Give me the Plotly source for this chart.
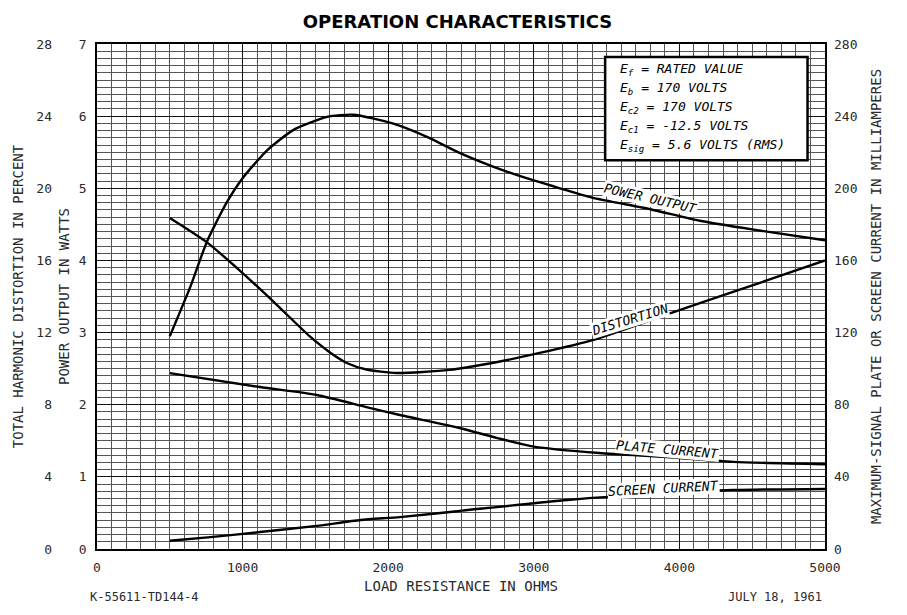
import plotly.graph_objects as go

# ---- data ----
power_x = [500, 640, 755, 890, 1000, 1170, 1350, 1580, 1760, 2030, 2270, 2490, 2720, 2950, 3180, 3400, 3800, 4140, 4500, 5000]
power_w = [2.95, 3.63, 4.26, 4.80, 5.14, 5.53, 5.81, 5.99, 6.02, 5.90, 5.71, 5.49, 5.30, 5.14, 5.00, 4.87, 4.71, 4.55, 4.43, 4.28]

dist_x = [500, 755, 1000, 1240, 1460, 1600, 1720, 1850, 2060, 2420, 2750, 3040, 3410, 3910, 4460, 5000]
dist_pct = [18.35, 17.0, 15.3, 13.5, 11.8, 10.9, 10.3, 9.95, 9.76, 9.93, 10.37, 10.87, 11.6, 13.0, 14.5, 16.0]

plate_x = [500, 1120, 1510, 1850, 2080, 2490, 2750, 3000, 3450, 3910, 4370, 5000]
plate_ma = [97.5, 89.8, 85.4, 78.7, 74.3, 67.1, 61.5, 56.8, 53.2, 51.0, 48.3, 47.0]

screen_x = [500, 780, 1120, 1510, 1810, 2080, 2490, 3230, 3910, 4370, 5000]
screen_ma = [4.6, 6.6, 9.4, 12.8, 16.1, 17.7, 21.1, 27.2, 31.0, 32.7, 33.3]

x_ticks = [0, 1000, 2000, 3000, 4000, 5000]
power_ticks = [0, 1, 2, 3, 4, 5, 6, 7]
dist_ticks = [0, 4, 8, 12, 16, 20, 24, 28]
ma_ticks = [0, 40, 80, 120, 160, 200, 240, 280]

conditions = [
    "E<sub>f</sub> = RATED VALUE",
    "E<sub>b</sub> = 170 VOLTS",
    "E<sub>c2</sub> = 170 VOLTS",
    "E<sub>c1</sub> = -12.5 VOLTS",
    "E<sub>sig</sub> = 5.6 VOLTS (RMS)",
]

MONO = "DejaVu Sans Mono"
INK = "#2a2a2a"

fig = go.Figure()
line = dict(color="black", width=2.4, shape="spline", smoothing=0.6)
fig.add_trace(go.Scatter(x=power_x, y=power_w, mode="lines", line=line, yaxis="y", hoverinfo="skip"))
fig.add_trace(go.Scatter(x=dist_x, y=dist_pct, mode="lines", line=line, yaxis="y2", hoverinfo="skip"))
fig.add_trace(go.Scatter(x=plate_x, y=plate_ma, mode="lines", line=line, yaxis="y3", hoverinfo="skip"))
fig.add_trace(go.Scatter(x=screen_x, y=screen_ma, mode="lines", line=line, yaxis="y3", hoverinfo="skip"))

# page offset (browser body margin) compensation
OFF = 8
W, H = 907 - OFF, 615 - OFF
L, R = 4, 4
T = 44 - OFF
B = H - (549 - OFF)
pw = W - L - R
def px(xp):
    return (xp - OFF - L) / pw

tickfont = dict(family=MONO, size=13, color=INK)
titlefont = dict(family=MONO, size=14, color=INK)

fig.update_layout(
    width=W, height=H,
    margin=dict(l=L, r=R, t=T, b=B, autoexpand=False),
    paper_bgcolor="white", plot_bgcolor="white",
    showlegend=False,
    title=dict(text="<b>OPERATION CHARACTERISTICS</b>", x=0.5, xanchor="center",
               yref="container", y=1 - (22 - OFF) / H, yanchor="middle", automargin=False,
               font=dict(family="DejaVu Sans", size=18, color="black")),
    xaxis=dict(
        domain=[px(97), px(825)], range=[0, 5000], automargin=False,
        tickvals=x_ticks, ticktext=[str(v) for v in x_ticks], tickfont=tickfont,
        showgrid=True, gridcolor="#111111", gridwidth=1.3,
        minor=dict(dtick=100, showgrid=True, gridcolor="#555555", gridwidth=0.7),
        showline=True, linecolor="black", linewidth=1.5, mirror=True,
        ticks="", ticklabelstandoff=6, zeroline=False,
        title=dict(text="LOAD RESISTANCE IN OHMS", font=titlefont, standoff=7),
    ),
    yaxis=dict(
        range=[0, 7], tickvals=power_ticks, tickfont=tickfont, automargin=False,
        showgrid=True, gridcolor="#111111", gridwidth=1.3,
        minor=dict(dtick=0.1, showgrid=True, gridcolor="#555555", gridwidth=0.7),
        showline=True, linecolor="black", linewidth=1.5, mirror=True,
        ticks="", ticklabelstandoff=6, zeroline=False,
        title=dict(text="POWER OUTPUT IN WATTS", font=titlefont, standoff=6),
    ),
    yaxis2=dict(
        range=[0, 28], tickvals=dist_ticks, tickfont=tickfont, automargin=False,
        overlaying="y", anchor="free", position=px(52), side="left",
        showgrid=False, showline=False, ticks="", zeroline=False,
        title=dict(text="TOTAL HARMONIC DISTORTION IN PERCENT", font=titlefont, standoff=8),
    ),
    yaxis3=dict(
        range=[0, 280], tickvals=ma_ticks, tickfont=tickfont, automargin=False,
        overlaying="y", anchor="x", side="right",
        showgrid=False, showline=False, ticks="", zeroline=False, ticklabelstandoff=8,
        title=dict(text="MAXIMUM-SIGNAL PLATE OR SCREEN CURRENT IN MILLIAMPERES", font=titlefont, standoff=14),
    ),
)

# conditions box
fig.add_shape(type="rect", xref="x", yref="y", x0=3490, x1=4880, y0=5.39, y1=6.82,
              line=dict(color="black", width=2.5), fillcolor="white", layer="above")
for i, txt in enumerate(conditions):
    fig.add_annotation(xref="x", yref="y", x=3580, y=6.64 - i * 0.263, text="<i>" + txt + "</i>",
                       showarrow=False, xanchor="left", yanchor="middle",
                       font=dict(family=MONO, size=13, color="black"))

# curve labels
curve_labels = [
    ("POWER OUTPUT", 3800, 4.86, 13, "y"),
    ("DISTORTION", 3660, 12.75, -17, "y2"),
    ("PLATE CURRENT", 3920, 55.0, 5, "y3"),
    ("SCREEN CURRENT", 3890, 33.6, -3, "y3"),
]
for txt, x, y, ang, yr in curve_labels:
    fig.add_annotation(xref="x", yref=yr, x=x, y=y, text="<i>" + txt + "</i>", showarrow=False,
                       textangle=ang, bgcolor="white", borderpad=0,
                       font=dict(family=MONO, size=13, color="black"))

# footer texts
fig.add_annotation(xref="paper", yref="paper", x=px(88), y=-0.095, text="K-55611-TD144-4",
                   showarrow=False, xanchor="left", yanchor="middle",
                   font=dict(family=MONO, size=12, color=INK))
fig.add_annotation(xref="paper", yref="paper", x=px(824), y=-0.095, text="JULY 18, 1961",
                   showarrow=False, xanchor="right", yanchor="middle",
                   font=dict(family=MONO, size=12, color=INK))

fig.write_html("out.html")
